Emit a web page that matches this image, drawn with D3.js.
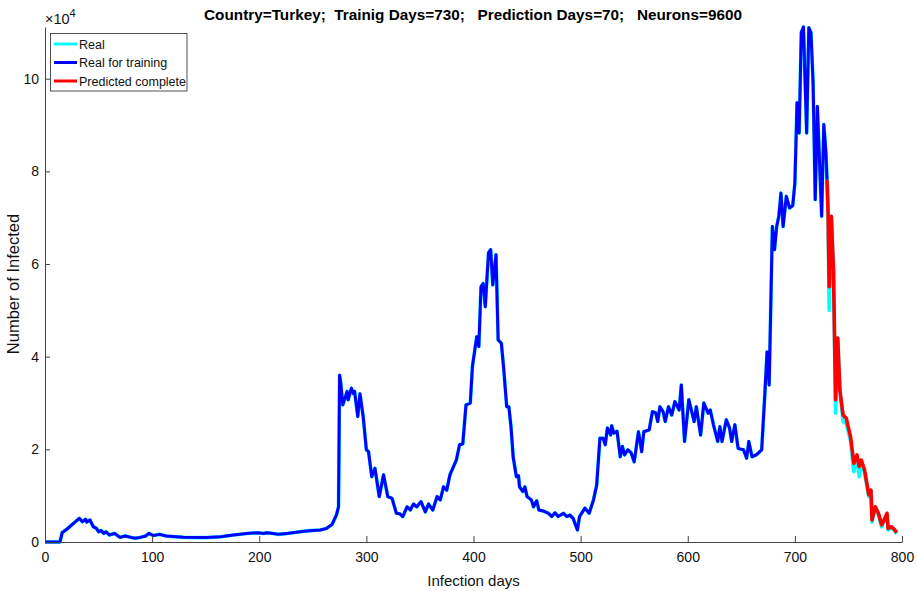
<!DOCTYPE html>
<html>
<head>
<meta charset="utf-8">
<script src="https://cdn.jsdelivr.net/npm/d3@7"></script>
<style>
    body { margin: 0; background: #fff; }
    text { font-family: "Liberation Sans", Arial, Helvetica, sans-serif; }
</style>
</head>
<body>
<div id="chart"></div>
<script>
// daily infected (x = day index)
var realDays = [0, 14, 16, 20, 25, 32, 35, 38, 39, 42, 45, 48, 50, 52, 55, 57, 60, 65, 70, 75,
    80, 84, 89, 94, 97, 101, 107, 113, 129, 151, 164, 176, 188, 199, 204, 207, 213, 218, 226, 238,
    247, 257, 263, 268, 272, 274, 275, 276, 278, 282, 283, 286, 288, 289, 292, 294, 297, 300, 302, 305,
    308, 312, 316, 320, 324, 328, 331, 334, 338, 341, 344, 347, 351, 355, 358, 362, 366, 369, 372, 375,
    378, 384, 387, 390, 393, 397, 399, 403, 405, 407, 409, 411, 414, 416, 418, 421, 423, 426, 428, 431,
    433, 435, 437, 440, 442, 443, 446, 448, 450, 454, 456, 459, 461, 465, 470, 473, 476, 479, 484, 487,
    490, 493, 497, 499, 504, 508, 512, 515, 518, 521, 523, 525, 528, 529, 531, 534, 537, 539, 541, 544,
    547, 550, 554, 557, 559, 564, 567, 570, 572, 574, 577, 579, 582, 585, 588, 592, 594, 597, 601, 606,
    608, 612, 615, 619, 621, 624, 628, 630, 632, 636, 639, 641, 644, 647, 652, 655, 657, 660, 664, 669,
    672, 674, 676, 679, 681, 683, 685, 687, 689, 692, 695, 698, 700, 702, 704, 706, 708, 711, 713, 715,
    717, 719, 721, 725, 727, 729, 730, 731, 732, 734, 736, 738, 740, 742, 745, 748, 752, 755, 758, 760,
    762, 765, 769, 771, 772, 775, 778, 781, 784, 786, 787, 790, 793, 795]
var realCases = [0, 0, 2000, 2700, 3700, 5100, 4400, 4900, 4300, 4750, 3300, 2950, 2200, 2500, 1850, 2200, 1500, 1850, 1000, 1300,
    1000, 800, 1000, 1300, 1850, 1400, 1650, 1300, 1000, 950, 1150, 1500, 1850, 2000, 1850, 2000, 1850, 1650, 1850, 2200,
    2450, 2600, 2950, 3800, 5800, 7600, 36000, 34500, 29600, 32500, 30700, 33200, 32000, 32500, 27100, 32000, 27100, 19900, 19500, 14100,
    15900, 9800, 14500, 9800, 9400, 6200, 6100, 5500, 7600, 6900, 8200, 7600, 8700, 6500, 8200, 6900, 9800, 9100, 11900, 11200,
    14500, 17700, 21000, 21200, 29600, 30000, 37900, 44300, 42200, 55100, 55800, 50800, 62400, 63100, 55500, 62000, 43600, 42900, 37900, 29200,
    29200, 24900, 18400, 14100, 14300, 11900, 10900, 11900, 9800, 9100, 7600, 8900, 6900, 6700, 6200, 5500, 6300, 5500, 6200, 5500,
    5800, 5100, 2600, 5500, 7300, 6200, 9100, 12300, 22400, 22400, 21000, 24600, 23100, 25100, 23500, 23900, 18400, 20600, 18800, 19900,
    19300, 17300, 23800, 19500, 23800, 24200, 28100, 27900, 26000, 29200, 28100, 26000, 29200, 27400, 30300, 28500, 33900, 21700, 30700, 26000,
    29200, 23100, 30000, 27800, 28500, 25300, 21700, 24900, 21700, 26400, 24600, 21700, 25300, 20200, 19900, 18100, 21700, 18400, 18800, 19900,
    32100, 41000, 33900, 68100, 63100, 68100, 70300, 75300, 68100, 74600, 72100, 72600, 77500, 94800, 88300, 110000, 111157, 88300, 111000, 110000,
    99100, 73900, 94000, 70300, 90100, 84000, 78200, 71000, 50000, 70300, 58800, 27800, 44000, 32800, 26000, 25500, 21800, 15200, 18300, 14100,
    17000, 15000, 9800, 11000, 4300, 7400, 5900, 3300, 4900, 6000, 2600, 3100, 2500, 1800]

var trainingLastDay = 730

var predDays = [730, 731, 732, 734, 736, 738, 740, 742, 745, 748, 752, 755, 758, 760,
    762, 765, 769, 771, 772, 775, 778, 781, 784, 786, 787, 790, 793, 795]
var predCases = [78200, 71000, 55100, 70300, 58800, 30700, 44000, 32800, 27400, 26700, 22700, 17000, 18800, 16300,
    17700, 15600, 10200, 11200, 4750, 7600, 6200, 3700, 5100, 6200, 2950, 3300, 2700, 2000]

var xTicks = [0, 100, 200, 300, 400, 500, 600, 700, 800]
var yTicks = [0, 20000, 40000, 60000, 80000, 100000]
var legendLabels = ['Real', 'Real for training', 'Predicted complete']
var titleText = 'Country=Turkey;  Trainig Days=730;   Prediction Days=70;   Neurons=9600'

var chart = (function(){

    var width = 917
    var height = 591
    var left = 45
    var right = 902
    var top = 27
    var bottom = 542
    var axisColor = '#444'

    function toPoints(days, values){
        var pts = []
        for(var i = 0; i < days.length; i++){
            pts.push([days[i], values[i]])
        }
        return pts
    }

    function drawAxes(svg, x, y){
        var xAxis = d3.axisBottom(x)
            .tickValues(xTicks)
            .tickSizeInner(-6)
            .tickSizeOuter(0)
            .tickPadding(10)

        var gx = svg.append('g')
            .attr('transform', 'translate(0,' + bottom + ')')
            .call(xAxis)

        var yAxis = d3.axisLeft(y)
            .tickValues(yTicks)
            .tickFormat(function(d){ return d / 10000 })
            .tickSizeInner(-5)
            .tickSizeOuter(0)
            .tickPadding(6)

        var gy = svg.append('g')
            .attr('transform', 'translate(' + left + ',0)')
            .call(yAxis)

        ;[gx, gy].forEach(function(g){
            g.select('.domain').attr('stroke', axisColor)
            g.selectAll('.tick line').attr('stroke', axisColor)
            g.selectAll('.tick text')
                .attr('fill', '#111')
                .attr('font-size', 14)
                .attr('font-family', '"Liberation Sans", Arial, sans-serif')
        })

        // exponent above the y axis
        var expo = svg.append('text')
            .attr('x', 45)
            .attr('y', 24)
            .attr('font-size', 14.5)
            .attr('fill', '#111')
        expo.append('tspan').text('\u00d710')
        expo.append('tspan').attr('font-size', 11).attr('dy', -7).text('4')

        svg.append('text')
            .attr('x', (left + right) / 2)
            .attr('y', 586)
            .attr('text-anchor', 'middle')
            .attr('font-size', 15)
            .attr('fill', '#111')
            .text('Infection days')

        svg.append('text')
            .attr('transform', 'translate(19,' + 284 + ') rotate(-90)')
            .attr('text-anchor', 'middle')
            .attr('font-size', 16.5)
            .attr('fill', '#111')
            .text('Number of Infected')

        svg.append('text')
            .attr('x', 473)
            .attr('y', 20)
            .attr('text-anchor', 'middle')
            .attr('font-size', 15.3)
            .attr('font-weight', 'bold')
            .attr('fill', '#000')
            .style('white-space', 'pre')
            .text(titleText)
    }

    function drawLines(svg, x, y){
        var line = d3.line()
            .x(function(d){ return x(d[0]) })
            .y(function(d){ return y(d[1]) })

        var real = toPoints(realDays, realCases)
        var training = real.filter(function(d){ return d[0] <= trainingLastDay })
        var predicted = toPoints(predDays, predCases)

        svg.append('path')
            .attr('d', line(real))
            .attr('fill', 'none')
            .attr('stroke', '#00ffff')
            .attr('stroke-width', 3.6)
            .attr('stroke-linejoin', 'round')

        svg.append('path')
            .attr('d', line(training))
            .attr('fill', 'none')
            .attr('stroke', '#0000ff')
            .attr('stroke-width', 3)
            .attr('stroke-linejoin', 'round')

        svg.append('path')
            .attr('d', line(predicted))
            .attr('fill', 'none')
            .attr('stroke', '#ff0000')
            .attr('stroke-width', 3.6)
            .attr('stroke-linejoin', 'round')
    }

    function drawLegend(svg){
        var colors = ['#00ffff', '#0000ff', '#ff0000']
        var rowY = [44, 62.5, 81]

        svg.append('rect')
            .attr('x', 50.5)
            .attr('y', 33.5)
            .attr('width', 136.5)
            .attr('height', 57.5)
            .attr('fill', '#fff')
            .attr('stroke', '#262626')
            .attr('stroke-width', 0.8)

        for(var i = 0; i < legendLabels.length; i++){
            svg.append('line')
                .attr('x1', 54)
                .attr('x2', 77)
                .attr('y1', rowY[i])
                .attr('y2', rowY[i])
                .attr('stroke', colors[i])
                .attr('stroke-width', 3)

            svg.append('text')
                .attr('x', 79)
                .attr('y', rowY[i] + 4.5)
                .attr('font-size', 12.5)
                .attr('fill', '#111')
                .text(legendLabels[i])
        }
    }

    return {
        create: function(elementId){
            var svg = d3.select('#' + elementId).append('svg')
                .attr('width', width)
                .attr('height', height)

            svg.append('rect')
                .attr('width', width)
                .attr('height', height)
                .attr('fill', '#fff')

            var x = d3.scaleLinear().domain([0, 800]).range([left, right])
            var y = d3.scaleLinear().domain([0, 111157]).range([bottom, top])

            drawLines(svg, x, y)
            drawAxes(svg, x, y)
            drawLegend(svg)
        }
    }
})()

chart.create('chart')
</script>
</body>
</html>
